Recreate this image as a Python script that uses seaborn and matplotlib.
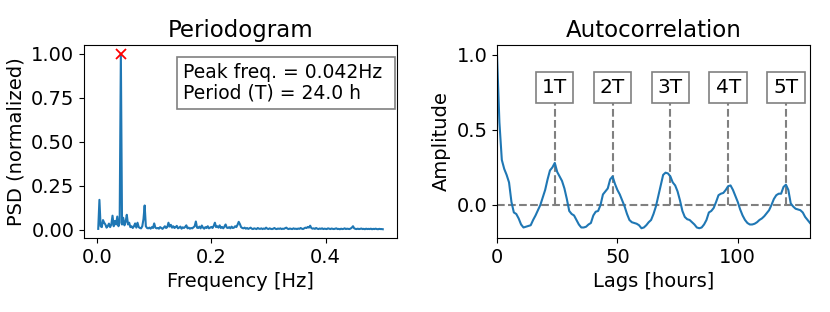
import numpy as np
import pandas as pd
import matplotlib
matplotlib.use("Agg")
import matplotlib.pyplot as plt
import seaborn as sns

# ---------------- data ----------------
n_samples = 480                      # hourly samples
psd_values = [
    0.005, 0.17, 0.02, 0.015, 0.055, 0.04, 0.03, 0.012, 0.02, 0.035, 0.015, 0.03,
    0.08, 0.02, 0.05, 0.03, 0.075, 0.02, 0.04, 1.0, 0.03, 0.068, 0.025, 0.045,
    0.085, 0.03, 0.04, 0.015, 0.02, 0.01, 0.02, 0.036, 0.012, 0.04, 0.015, 0.01,
    0.008, 0.02, 0.06, 0.138, 0.02, 0.01, 0.008, 0.012, 0.006, 0.015, 0.01, 0.036,
    0.012, 0.008, 0.01, 0.006, 0.015, 0.01, 0.005, 0.012, 0.02, 0.01, 0.015, 0.04,
    0.018, 0.028, 0.012, 0.02, 0.01, 0.015, 0.022, 0.008, 0.012, 0.018, 0.006, 0.014,
    0.01, 0.016, 0.025, 0.008, 0.012, 0.006, 0.01, 0.008, 0.014, 0.02, 0.047, 0.012,
    0.01, 0.018, 0.008, 0.024, 0.012, 0.006, 0.015, 0.01, 0.02, 0.008, 0.012, 0.016,
    0.01, 0.022, 0.04, 0.015, 0.02, 0.012, 0.025, 0.01, 0.016, 0.008, 0.018, 0.03,
    0.012, 0.01, 0.015, 0.008, 0.018, 0.01, 0.012, 0.02, 0.015, 0.028, 0.045, 0.032,
    0.015, 0.01, 0.008, 0.012, 0.006, 0.01, 0.005, 0.008, 0.012, 0.006, 0.004, 0.008,
    0.006, 0.004, 0.01, 0.006, 0.005, 0.008, 0.004, 0.007, 0.005, 0.012, 0.006, 0.004,
    0.008, 0.005, 0.004, 0.006, 0.01, 0.005, 0.004, 0.007, 0.005, 0.008, 0.004, 0.006,
    0.005, 0.009, 0.012, 0.006, 0.004, 0.007, 0.005, 0.004, 0.008, 0.005, 0.006, 0.004,
    0.007, 0.005, 0.01, 0.006, 0.004, 0.008, 0.012, 0.01, 0.016, 0.012, 0.023, 0.01,
    0.006, 0.008, 0.005, 0.01, 0.006, 0.004, 0.007, 0.005, 0.008, 0.004, 0.006, 0.005,
    0.004, 0.008, 0.006, 0.004, 0.007, 0.005, 0.004, 0.006, 0.008, 0.004, 0.005, 0.003,
    0.006, 0.004, 0.005, 0.008, 0.004, 0.006, 0.005, 0.004, 0.007, 0.012, 0.02, 0.008,
    0.005, 0.004, 0.006, 0.004, 0.005, 0.007, 0.004, 0.005, 0.003, 0.006, 0.004, 0.005,
    0.004, 0.006, 0.003, 0.005, 0.004, 0.006, 0.004, 0.003, 0.005, 0.004, 0.004, 0.003,
]
frequencies = np.arange(1, len(psd_values) + 1) / n_samples

acf_values = [
    1.00, 0.55, 0.30, 0.24, 0.20, 0.15, 0.02, -0.05, -0.06, -0.09,
    -0.13, -0.15, -0.145, -0.14, -0.135, -0.10, -0.07, -0.035, 0.00, 0.05,
    0.10, 0.17, 0.23, 0.25, 0.28, 0.22, 0.19, 0.16, 0.11, 0.04,
    -0.04, -0.06, -0.07, -0.10, -0.13, -0.15, -0.15, -0.145, -0.13, -0.12,
    -0.07, -0.045, -0.04, 0.00, 0.07, 0.09, 0.11, 0.17, 0.19, 0.14,
    0.10, 0.07, 0.03, -0.01, -0.06, -0.10, -0.115, -0.12, -0.125, -0.135,
    -0.155, -0.15, -0.135, -0.115, -0.10, -0.06, -0.01, 0.06, 0.13, 0.20,
    0.215, 0.21, 0.19, 0.15, 0.13, 0.09, 0.03, -0.04, -0.08, -0.095,
    -0.10, -0.115, -0.13, -0.15, -0.155, -0.15, -0.13, -0.10, -0.05, -0.04,
    -0.02, 0.02, 0.065, 0.075, 0.08, 0.10, 0.125, 0.13, 0.10, 0.06,
    0.02, -0.03, -0.07, -0.10, -0.12, -0.13, -0.13, -0.125, -0.115, -0.10,
    -0.09, -0.075, -0.055, -0.035, 0.00, 0.04, 0.065, 0.075, 0.075, 0.12,
    0.135, 0.10, 0.01, -0.01, -0.025, -0.03, -0.035, -0.05, -0.08, -0.10,
    -0.12,
]
lags = np.arange(len(acf_values))
period_multiples = [1, 2, 3, 4, 5]
period_labels = ["1T", "2T", "3T", "4T", "5T"]

# ---------------- figure ----------------
plt.rcParams["font.family"] = ["DejaVu Sans"]
plt.rcParams["font.size"] = 14

fig = plt.figure(figsize=(8.3, 3.12), dpi=100)
W, H = 830, 312
ax1 = fig.add_axes([84 / W, 1 - 238 / H, (397 - 84) / W, (238 - 45) / H])
ax2 = fig.add_axes([497 / W, 1 - 238 / H, (810 - 497) / W, (238 - 45) / H])

# Periodogram
df_psd = pd.DataFrame({"freq": frequencies, "psd": psd_values})
sns.lineplot(data=df_psd, x="freq", y="psd", ax=ax1, lw=1.5, color="#1f77b4")
idx = int(np.argmax(psd_values))
peak_f = frequencies[idx]
ax1.plot([peak_f], [psd_values[idx]], "x", color="red", ms=7, mew=1.3)
ax1.set_title("Periodogram", fontsize=16.5)
ax1.set_xlabel("Frequency [Hz]", fontsize=14)
ax1.set_ylabel("PSD (normalized)", fontsize=14)
ax1.set_xticks([0.0, 0.2, 0.4])
ax1.set_yticks([0.0, 0.25, 0.5, 0.75, 1.0])
ax1.text(0.317, 0.905,
         f"Peak freq. = {peak_f:.3f}Hz \nPeriod (T) = {1 / peak_f:.1f} h",
         transform=ax1.transAxes, ha="left", va="top", fontsize=13.5,
         linespacing=1.05,
         bbox=dict(boxstyle="square,pad=0.35", facecolor="white",
                   edgecolor="gray", lw=1.2))

# Autocorrelation
period = 1 / peak_f
df_acf = pd.DataFrame({"lag": lags, "acf": acf_values})
ax2.axhline(0, color="gray", ls="--", lw=1.5, zorder=1)
for m, lab in zip(period_multiples, period_labels):
    x = m * period
    ax2.vlines(x, 0, 0.78, color="gray", ls="--", lw=1.5, zorder=1)
    ax2.text(x, 0.785, lab, ha="center", va="center", fontsize=14.5, zorder=3,
             bbox=dict(boxstyle="square,pad=0.3", facecolor="white",
                       edgecolor="gray", lw=1.2))
sns.lineplot(data=df_acf, x="lag", y="acf", ax=ax2, lw=1.5, color="#1f77b4",
             zorder=2)
ax2.set_title("Autocorrelation", fontsize=16.5)
ax2.set_xlabel("Lags [hours]", fontsize=14)
ax2.set_ylabel("Amplitude", fontsize=14)
ax2.set_xlim(0, 130)
ax2.set_ylim(-0.22, 1.065)
ax2.set_xticks([0, 50, 100])
ax2.set_yticks([0.0, 0.5, 1.0])

for ax in (ax1, ax2):
    ax.tick_params(labelsize=14)

fig.savefig("out.png", dpi=100)
